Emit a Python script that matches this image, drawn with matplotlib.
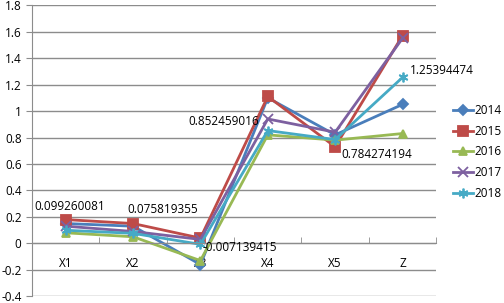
import matplotlib
matplotlib.use('Agg')
import matplotlib.pyplot as plt
from matplotlib.ticker import FuncFormatter

plt.rcParams['font.family'] = ['Open Sans', 'DejaVu Sans']

categories = ['X1', 'X2', 'X3', 'X4', 'X5', 'Z']
years = ['2014', '2015', '2016', '2017', '2018']
v2014 = [0.15, 0.13, -0.16, 1.10, 0.82, 1.05]
v2015 = [0.18, 0.15, 0.04, 1.11, 0.73, 1.57]
v2016 = [0.08, 0.05, -0.13, 0.82, 0.78, 0.83]
v2017 = [0.13, 0.09, 0.03, 0.94, 0.84, 1.55]
v2018 = [0.099260081, 0.075819355, -0.007139415, 0.852459016, 0.784274194, 1.25394474]
labels_2018 = ['0.099260081', '0.075819355', '-0.007139415', '0.852459016', '0.784274194', '1.25394474']

colors = ['#4A7EBB', '#BE4B48', '#98B954', '#7D60A0', '#46AAC5']
markers = ['D', 's', '^', 'x', (6, 2, 0)]
msizes = [5, 7, 6, 7, 7]
series = [v2014, v2015, v2016, v2017, v2018]

fig = plt.figure(figsize=(5.04, 3.03), dpi=100)
ax = fig.add_axes([0.0635, 0.022, 0.802, 0.961])

x = list(range(len(categories)))
for vals, yr, c, m, ms in zip(series, years, colors, markers, msizes):
    ax.plot(x, vals, color=c, marker=m, markersize=ms, linewidth=2,
            markeredgewidth=1.3, label=yr)

# data labels for the 2018 series (offsets in points)
offsets = [(3, 17), (21, 17), (28, -2), (-32, 6.5), (30, -11), (28, 5)]
for xi, yi, txt, off in zip(x, v2018, labels_2018, offsets):
    ax.annotate(txt, (xi, yi), xytext=off, textcoords='offset points',
                ha='center', va='center', fontsize=8.5)

ax.set_xlim(-0.5, 5.5)
ax.set_ylim(-0.4, 1.8)
ax.set_yticks([-0.4, -0.2, 0, 0.2, 0.4, 0.6, 0.8, 1, 1.2, 1.4, 1.6, 1.8])
ax.yaxis.set_major_formatter(FuncFormatter(lambda v, p: '%g' % round(v, 1)))
ax.grid(axis='y', color='#8C8C8C', linewidth=1)
ax.set_axisbelow(True)

ax.spines['top'].set_visible(False)
ax.spines['right'].set_visible(False)
ax.spines['left'].set_color('#8C8C8C')
ax.spines['bottom'].set_color('#8C8C8C')
ax.spines['bottom'].set_position(('data', 0))

ax.set_xticks(x)
ax.set_xticklabels(categories)
ax.set_xticks([i + 0.5 for i in range(-1, 6)], minor=True)
ax.tick_params(axis='x', which='major', length=0, pad=10, labelsize=8.5)
ax.tick_params(axis='x', which='minor', length=4, color='#8C8C8C', direction='in')
ax.tick_params(axis='y', length=4, color='#8C8C8C', labelsize=8.5)

ax.legend(loc='upper left', bbox_to_anchor=(453 / 504, 1 - 104 / 303),
          bbox_transform=fig.transFigure, frameon=False, borderpad=0,
          borderaxespad=0, fontsize=8.5, handlelength=1.7,
          labelspacing=0.65, handletextpad=0.15)

fig.savefig('out.png', dpi=100)
